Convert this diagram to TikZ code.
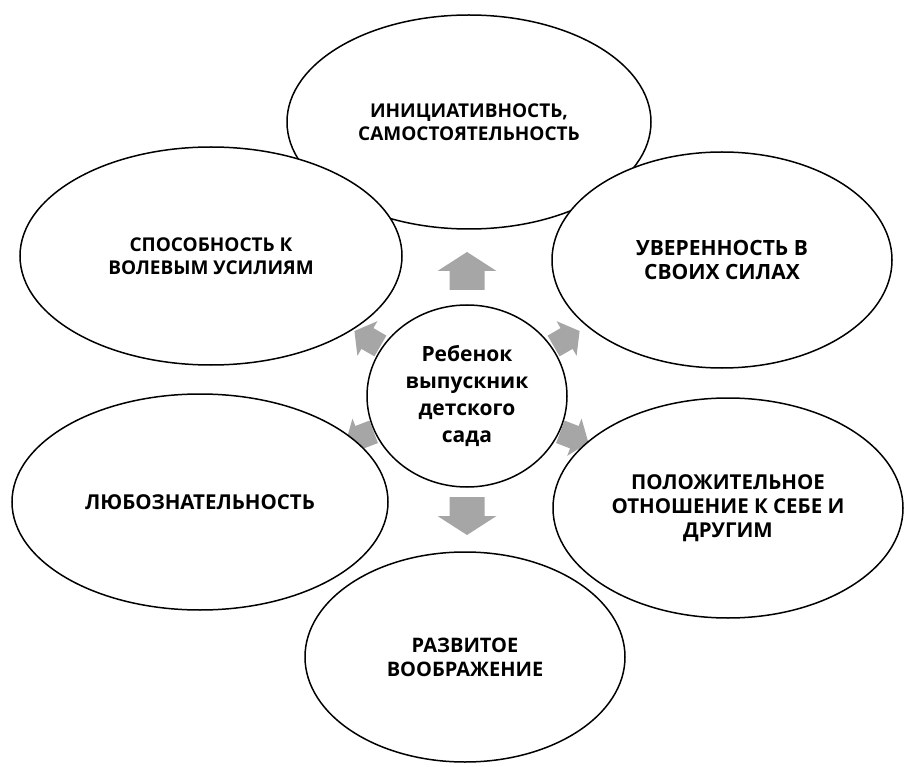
\documentclass[tikz,border=0pt]{standalone}
\usepackage{fontspec}
\setmainfont{Open Sans}
\usetikzlibrary{shapes.geometric}
\definecolor{arrowgray}{HTML}{A6A6A6}
\tikzset{
  bubble/.style={ellipse, draw=black, line width=1.5pt, fill=white, inner sep=0pt,
    align=center, font=\bfseries\fontsize{19}{23}\selectfont},
  fs/.style={font=\bfseries\fontsize{#1}{24}\selectfont},
  hub/.style={bubble, font=\bfseries\fontsize{21}{27}\selectfont},
  garrow/.pic={\fill[arrowgray] (#1,-17.5) -- ({#1+19},-17.5) -- ({#1+19},-29.5)
    -- ({#1+38},0) -- ({#1+19},29.5) -- ({#1+19},17.5) -- (#1,17.5) -- cycle;},
  sarrow/.pic={\fill[arrowgray] (#1,-12) -- ({#1+15},-12) -- ({#1+15},-20)
    -- ({#1+30},0) -- ({#1+15},20) -- ({#1+15},12) -- (#1,12) -- cycle;}
}
\begin{document}
\begin{tikzpicture}[x=1pt,y=-1pt]
\useasboundingbox (0,0) rectangle (905,767);
\coordinate (c) at (467,396);
\pic[rotate=90] at (c) {garrow=106};
\pic[rotate=-90] at (c) {garrow=101};
\pic[rotate=30] at (c) {sarrow=100};
\pic[rotate=150] at (c) {sarrow=100};
\pic[rotate=-21] at (c) {sarrow=100};
\pic[rotate=201] at (c) {sarrow=100};
\node[bubble, minimum width=364pt, minimum height=214pt] (top) at (469,122)
  {ИНИЦИАТИВНОСТЬ,\\САМОСТОЯТЕЛЬНОСТЬ};
\node[bubble, minimum width=382pt, minimum height=218pt] (lt) at (211,256)
  {СПОСОБНОСТЬ К\\ВОЛЕВЫМ УСИЛИЯМ};
\node[bubble, fs=21, minimum width=340pt, minimum height=216pt] (rt) at (722,260)
  {УВЕРЕННОСТЬ В\\СВОИХ СИЛАХ};
\node[bubble, fs=20.5, minimum width=376pt, minimum height=216pt] (lb) at (200,502)
  {ЛЮБОЗНАТЕЛЬНОСТЬ};
\node[bubble, fs=20.5, minimum width=350pt, minimum height=220pt] (rb) at (728,508)
  {ПОЛОЖИТЕЛЬНОЕ\\ОТНОШЕНИЕ К СЕБЕ И\\ДРУГИМ};
\node[bubble, fs=20, minimum width=320pt, minimum height=210pt] (bot) at (465,657)
  {РАЗВИТОЕ\\ВООБРАЖЕНИЕ};
\node[hub, minimum width=200pt, minimum height=182pt] (hub) at (c)
  {Ребенок\\выпускник\\детского\\сада};
\end{tikzpicture}
\end{document}
